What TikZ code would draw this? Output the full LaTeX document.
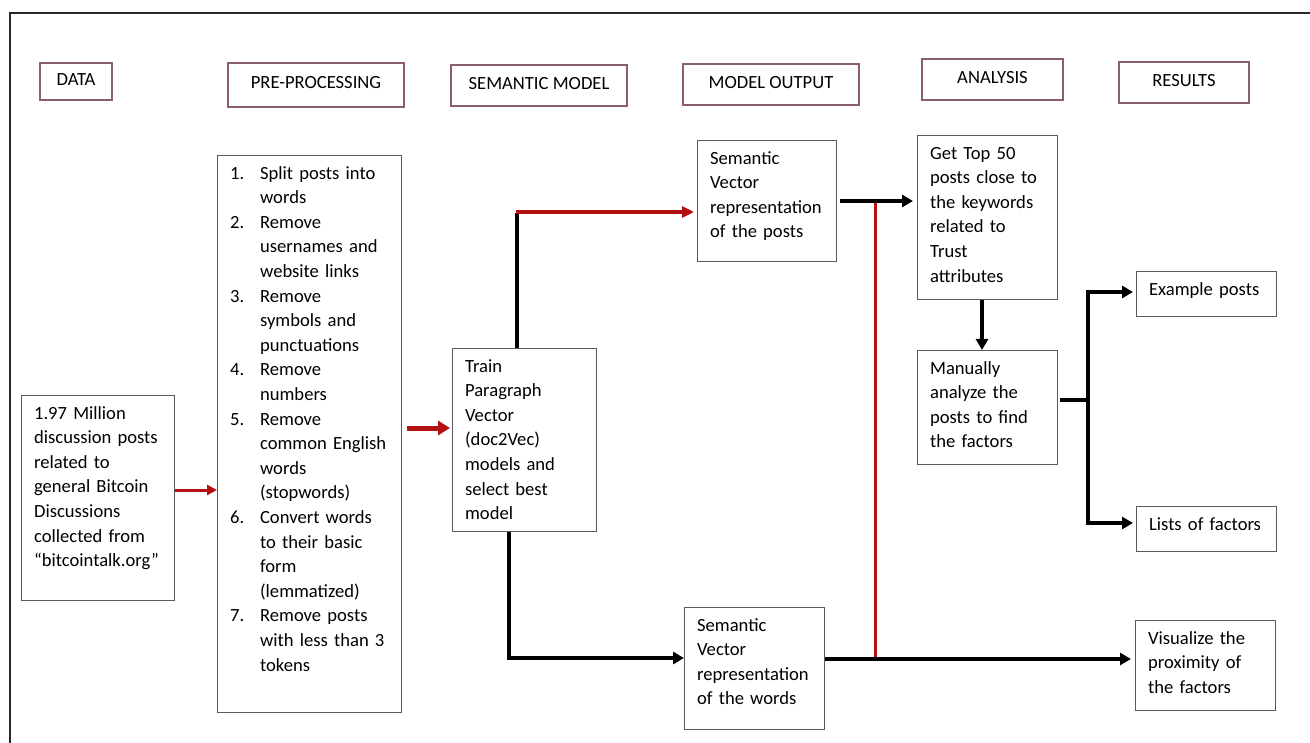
\documentclass[tikz,border=0pt]{standalone}
\usepackage{fontspec}
\setmainfont{Carlito}
\usetikzlibrary{arrows.meta}
\definecolor{hdr}{RGB}{140,96,104}
\definecolor{bxc}{RGB}{90,90,90}
\definecolor{arrred}{RGB}{180,18,18}
\definecolor{frm}{RGB}{40,40,40}
\tikzset{
  hdrbox/.style={draw=hdr, line width=1.4pt, inner sep=0pt, text height=12pt, text depth=4pt,
    font=\fontsize{18.6}{24.6}\selectfont},
  txtbox/.style={draw=bxc, line width=1.2pt, anchor=north west, inner xsep=12.5pt, inner ysep=0pt,
    text height=23.5pt, align=left, font=\fontsize{18.6}{24.6}\selectfont},
  blackline/.style={line width=3.6pt, black},
  blackarrow/.style={line width=3.6pt, black, -{Triangle[length=11pt,width=12pt]}},
  redline/.style={line width=3pt, arrred},
  redarrow/.style={line width=3.2pt, arrred, -{Triangle[length=12pt,width=11pt]}},
}
\newcommand{\num}[1]{\makebox[30pt][l]{#1}}
\newcommand{\ind}{\hspace*{30pt}}
\begin{document}
\begin{tikzpicture}[x=1pt, y=-1pt]
\useasboundingbox (0,0) rectangle (1310,743);
\fill[white] (0,0) rectangle (1310,743);
% outer frame
\draw[line width=2pt, frm] (10,745) -- (10,13) -- (1312,13);

% headers
\node[hdrbox, minimum width=72pt, minimum height=37pt] (hdata) at (76,81.5) {DATA};
\node[hdrbox, minimum width=176pt, minimum height=44pt] (hpre) at (316,85) {PRE-PROCESSING};
\node[hdrbox, minimum width=176pt, minimum height=41pt] (hsem) at (539,85.5) {SEMANTIC MODEL};
\node[hdrbox, minimum width=176pt, minimum height=41pt] (hout) at (771,84.5) {MODEL OUTPUT};
\node[hdrbox, minimum width=141pt, minimum height=41pt] (hana) at (992.5,79.5) {ANALYSIS};
\node[hdrbox, minimum width=130pt, minimum height=41pt] (hres) at (1184,82.5) {RESULTS};

% boxes
\node[txtbox, text width=128pt, text depth=181.5pt] (data) at (21,395)
  {1.97 Million\\discussion posts\\related to\\general Bitcoin\\Discussions\\collected from\\“bitcointalk.org”};
\node[txtbox, text width=159pt, text depth=533.5pt] (pre) at (217,155)
  {\num{1.}Split posts into\\\ind words\\
   \num{2.}Remove\\\ind usernames and\\\ind website links\\
   \num{3.}Remove\\\ind symbols and\\\ind punctuations\\
   \num{4.}Remove\\\ind numbers\\
   \num{5.}Remove\\\ind common English\\\ind words\\\ind (stopwords)\\
   \num{6.}Convert words\\\ind to their basic\\\ind form\\\ind (lemmatized)\\
   \num{7.}Remove posts\\\ind with less than 3\\\ind tokens};
\node[txtbox, text width=119pt, text depth=159.5pt] (train) at (452,348)
  {Train\\Paragraph\\Vector\\(doc2Vec)\\models and\\select best\\model};
\node[txtbox, text width=114pt, text depth=97.5pt] (posts) at (697,140)
  {Semantic\\Vector\\representation\\of the posts};
\node[txtbox, text width=115pt, text depth=98.5pt] (words) at (684,607)
  {Semantic\\Vector\\representation\\of the words};
\node[txtbox, text width=115pt, text depth=140.5pt] (top) at (917,135)
  {Get Top 50\\posts close to\\the keywords\\related to\\Trust\\attributes};
\node[txtbox, text width=115pt, text depth=90.5pt] (man) at (917,350)
  {Manually\\analyze the\\posts to find\\the factors};
\node[txtbox, text width=115pt, text depth=21.5pt] (ex) at (1136,271) {Example posts};
\node[txtbox, text width=115pt, text depth=21.5pt] (lists) at (1136,506) {Lists of factors};
\node[txtbox, text width=115pt, text depth=66.5pt] (vis) at (1135,620)
  {Visualize the\\proximity of\\the factors};

% connectors
\draw[line width=3pt, arrred, -{Triangle[length=10pt,width=10pt]}] (data.east |- 0,490) -- (pre.west |- 0,490);
\draw[line width=5pt, arrred, -{Triangle[length=12pt,width=14pt]}] ([xshift=5pt]pre.east |- 0,428) -- ([xshift=-2pt]train.west |- 0,428);

\coordinate (tp) at (517,212);
\draw[blackline] (train.north -| tp) -- ([yshift=-1.5pt]tp);
\draw[redarrow] ([xshift=-1.5pt]tp) -- ([xshift=-3pt]posts.west |- tp);

\coordinate (bt) at (509,658);
\draw[blackarrow] (train.south -| bt) |- (words.west |- bt);

\coordinate (rj) at (875,201);
\coordinate (rb) at (875,659);
\draw[redline] (rj) -- (rb);
\draw[blackarrow] ([xshift=3pt]posts.east |- rj) -- ([xshift=-4pt]top.west |- rj);
\draw[blackarrow] (words.east |- rb) -- ([xshift=-4pt]vis.west |- rb);

\draw[blackarrow] (top.south -| 982,0) -- (man.north -| 982,0);

\coordinate (j) at (1088,400);
\draw[blackline] ([xshift=2pt]man.east |- j) -- (j);
\draw[blackarrow] (j) |- ([xshift=-3pt]ex.west |- 0,292);
\draw[blackarrow] (j) |- ([xshift=-3pt]lists.west |- 0,523);
\end{tikzpicture}
\end{document}
